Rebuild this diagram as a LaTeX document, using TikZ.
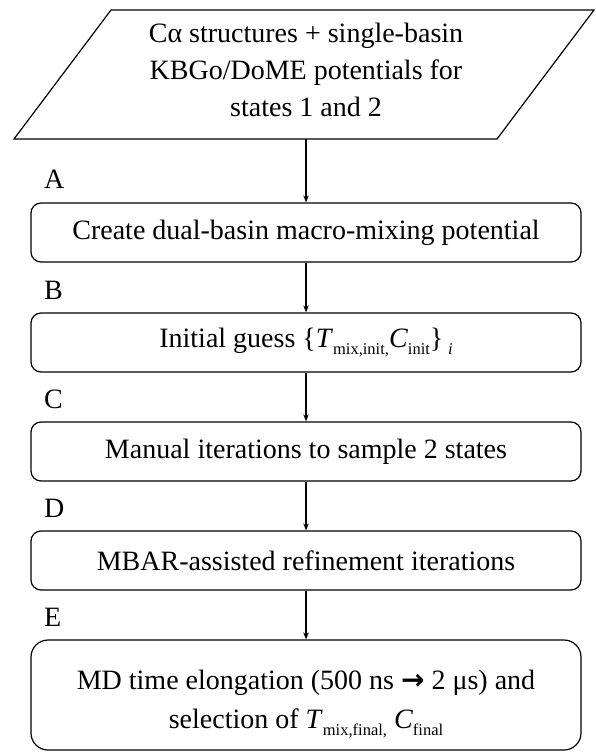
\documentclass[tikz,border=0pt]{standalone}
\usepackage{fontspec}
\setmainfont{Liberation Serif}
\newfontfamily\arrowfont{DejaVu Sans}
\usetikzlibrary{arrows.meta}
\newcommand\lowsub[1]{\raisebox{-0.26em}{\fontsize{16.5}{16.5}\selectfont #1}}
\begin{document}
\begin{tikzpicture}[x=1pt,y=-1pt,
  font=\fontsize{28}{39}\selectfont,
  stepbox/.style={draw, line width=1.2pt, rounded corners=10pt, minimum width=550pt, minimum height=59pt, inner sep=0pt, align=center},
  bigbox/.style={stepbox, rounded corners=17pt, minimum height=110pt},
  lab/.style={anchor=west, inner sep=0pt},
  arr/.style={line width=1.3pt, -{Stealth[length=7pt,width=5.5pt]}}]
\useasboundingbox (0,0) rectangle (595,752);
% input parallelogram
\draw[line width=1.2pt] (14,139) -- (111,10) -- (594,10) -- (497,139) -- cycle;
\node[align=center, inner sep=0pt, font=\fontsize{28}{37}\selectfont] (src) at (306,70) {Cα structures + single-basin\\KBGo/DoME potentials for\\states 1 and 2};
\coordinate (srcb) at (306,139);
% labels
\node[lab] (la) at (44,179) {A};
\node[lab] (lb) at (44,290) {B};
\node[lab] (lc) at (44,399) {C};
\node[lab] (ld) at (44,508) {D};
\node[lab] (le) at (44,617) {E};
% boxes
\node[stepbox] (a) at (306,232.5) {Create dual-basin macro-mixing potential};
\node[stepbox] (b) at (306,342.5) {Initial guess \{\textit{T}\lowsub{mix,init,}\textit{C}\lowsub{init}\}\,\lowsub{\textit{i}}};
\node[stepbox] (c) at (306,451.5) {Manual iterations to sample 2 states};
\node[stepbox] (d) at (306,560.5) {MBAR-assisted refinement iterations};
\node[bigbox] (e) at (306,695) {};
\node[align=center, inner sep=0pt, font=\fontsize{28}{39.5}\selectfont] (et) at (306,704) {MD time elongation (500 ns {\arrowfont\bfseries →} 2 μs) and\\selection of \textit{T}\lowsub{mix,final,} \textit{C}\lowsub{final}};
% connectors
\draw[arr] (srcb) -- (a.north);
\draw[arr] (a.south) -- (b.north);
\draw[arr] (b.south) -- (c.north);
\draw[arr] (c.south) -- (d.north);
\draw[arr] (d.south) -- (e.north);
\end{tikzpicture}
\end{document}
